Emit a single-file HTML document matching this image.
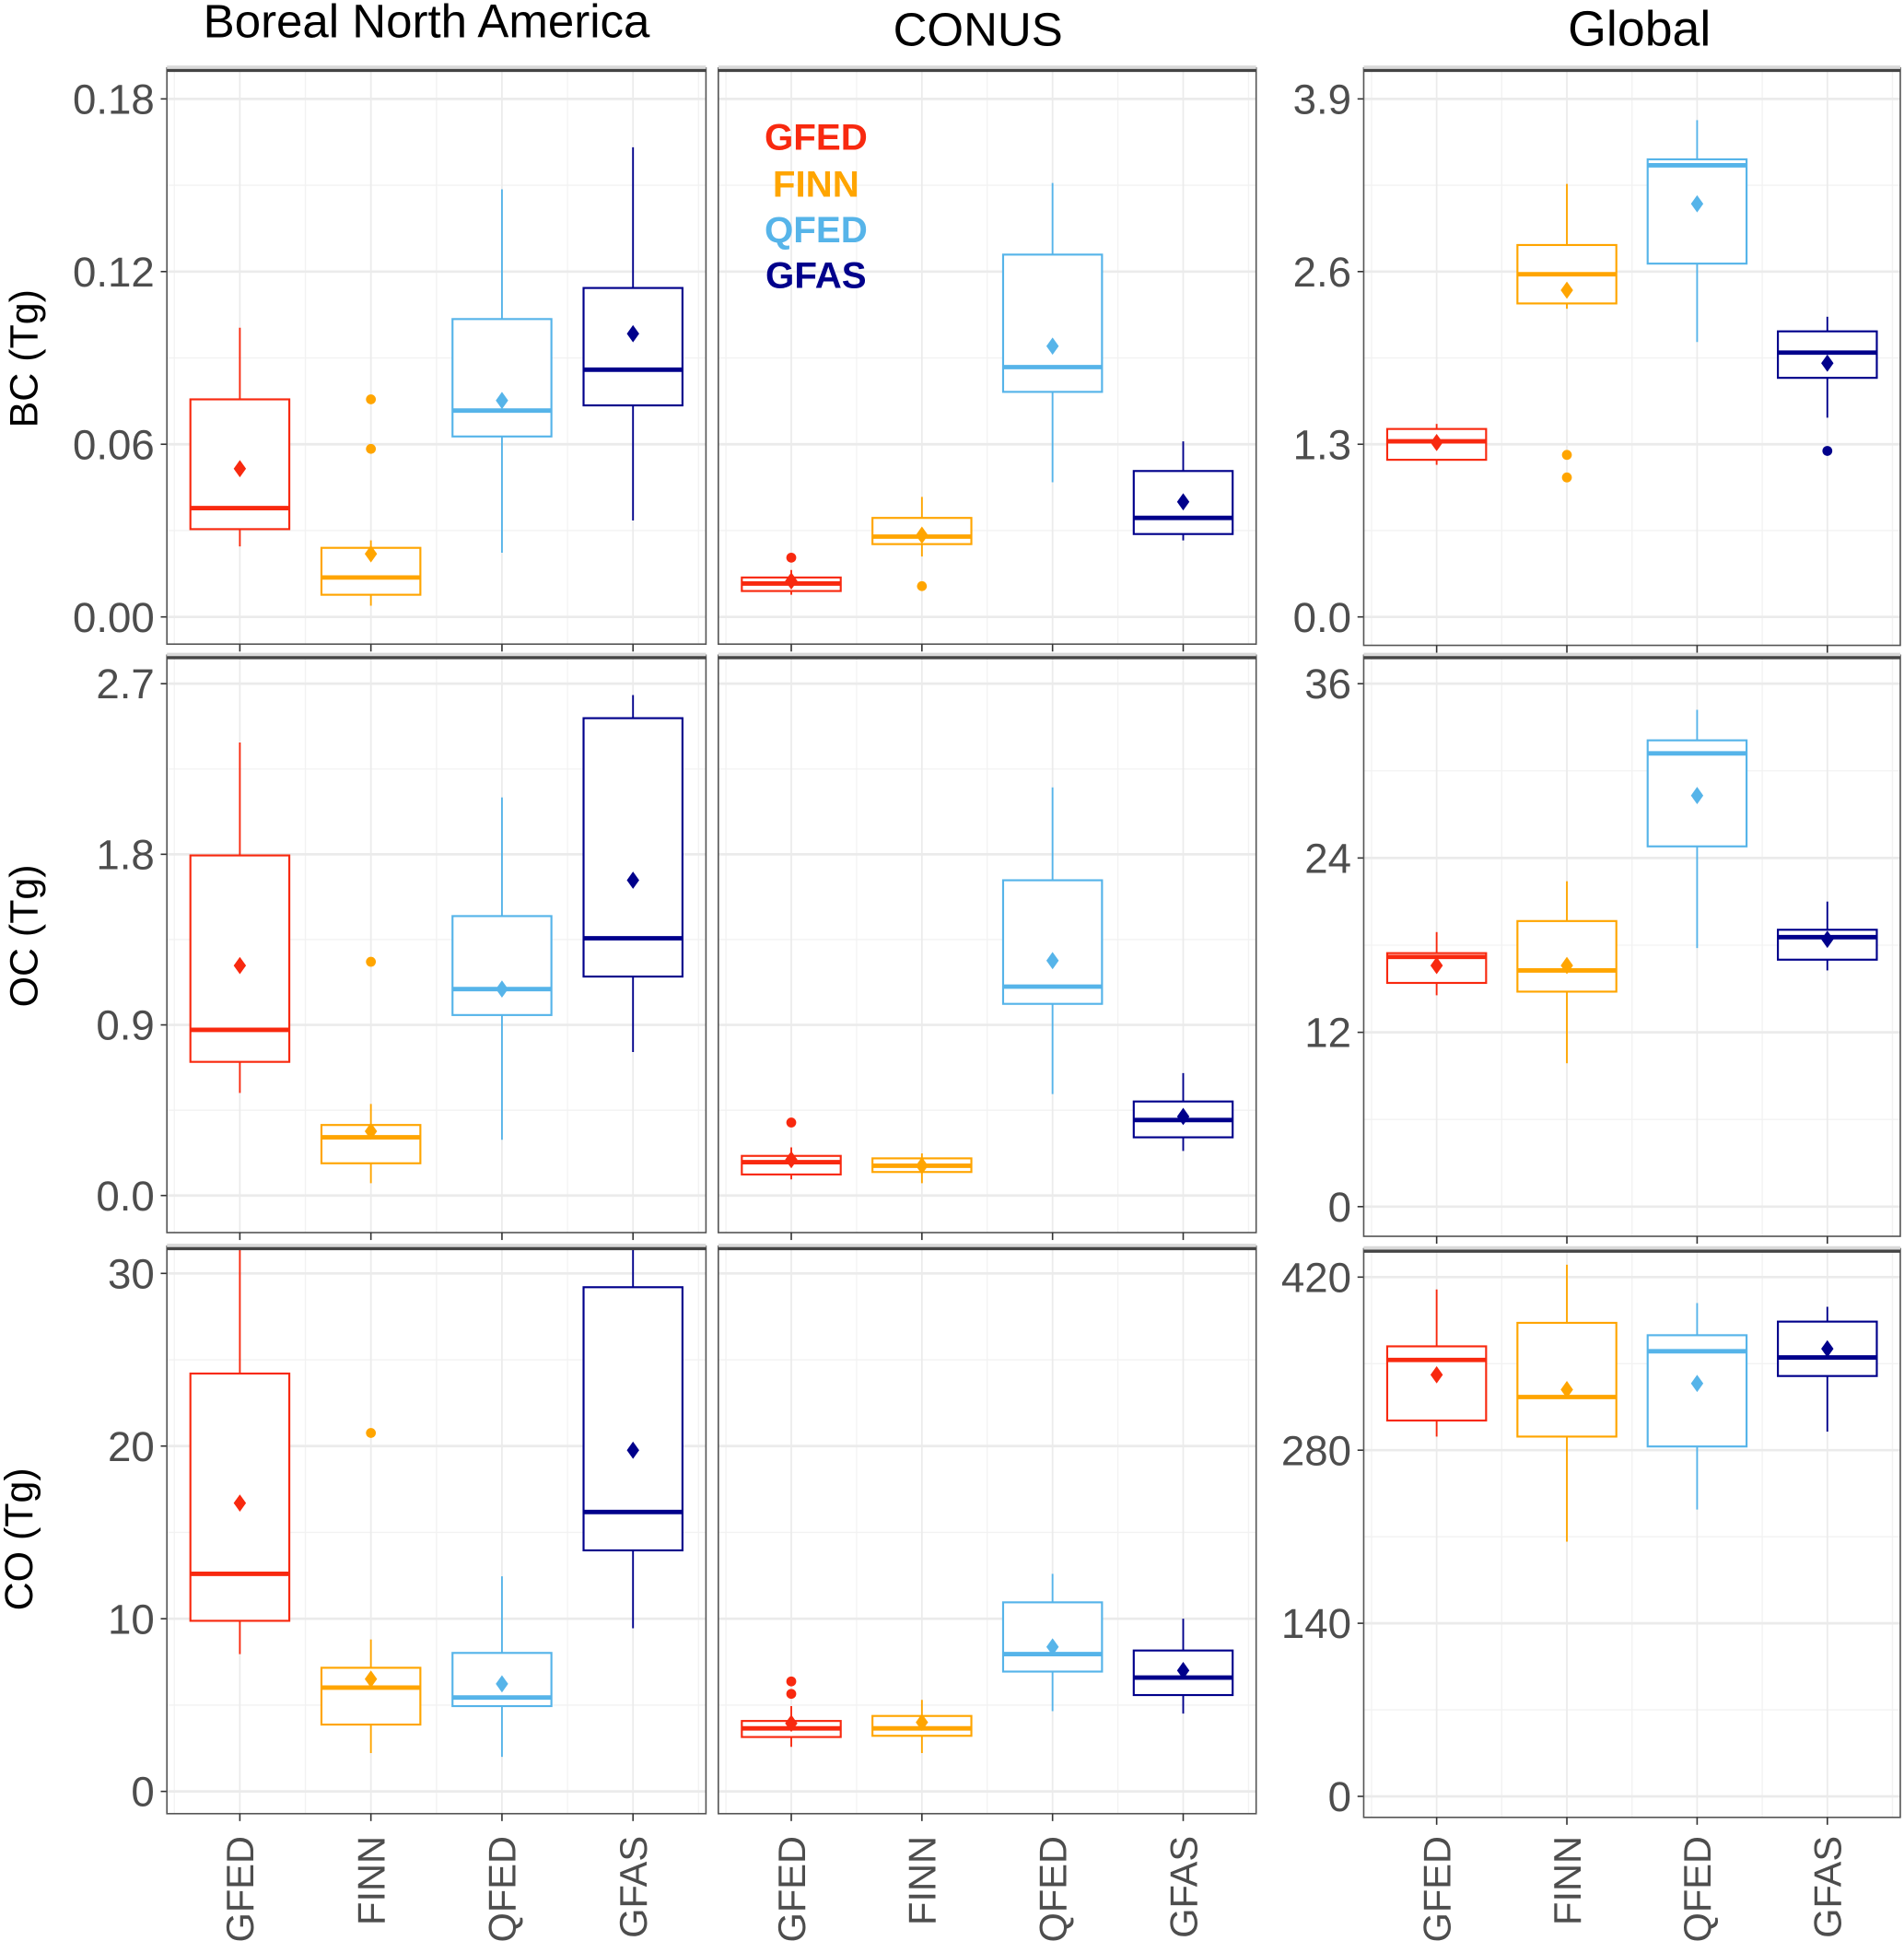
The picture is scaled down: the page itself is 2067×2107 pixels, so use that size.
<!DOCTYPE html>
<html><head><meta charset="utf-8"><style>
html,body{margin:0;padding:0;background:#fff;}
svg{display:block;font-family:"Liberation Sans",Arial,sans-serif;}
</style></head><body>
<svg id="chart" width="2067" height="2107" viewBox="0 0 1540 1570" preserveAspectRatio="none" xmlns="http://www.w3.org/2000/svg">
<text x="345" y="30" font-size="38" text-anchor="middle">Boreal North America</text>
<text x="791" y="37" font-size="38" text-anchor="middle">CONUS</text>
<text x="1326" y="37" font-size="40" text-anchor="middle">Global</text>
<g id="panels"></g>
<text transform="translate(30,290) rotate(-90)" font-size="32" text-anchor="middle">BC (Tg)</text>
<text transform="translate(30,757) rotate(-90)" font-size="32" text-anchor="middle">OC (Tg)</text>
<text transform="translate(26,1245) rotate(-90)" font-size="32" text-anchor="middle">CO (Tg)</text>
<g font-weight="bold" font-size="30" text-anchor="middle">
<text x="660" y="121" fill="#f8290f">GFED</text>
<text x="660" y="159" fill="#ffa500">FINN</text>
<text x="660" y="196" fill="#56b4e9">QFED</text>
<text x="660" y="233" fill="#00008b">GFAS</text>
</g>
</svg>
<script>
const categories = ["GFED","FINN","QFED","GFAS"];
const colors = ["#f8290f","#ffa500","#56b4e9","#00008b"];

const bcTicksRegional = [0, 0.06, 0.12, 0.18];
const bcTicksGlobal = [0, 1.3, 2.6, 3.9];
const ocTicksRegional = [0, 0.9, 1.8, 2.7];
const ocTicksGlobal = [0, 12, 24, 36];
const coTicksRegional = [0, 10, 20, 30];
const coTicksGlobal = [0, 140, 280, 420];
const bcTickLabelsRegional = ["0.00","0.06","0.12","0.18"];
const bcTickLabelsGlobal = ["0.0","1.3","2.6","3.9"];
const ocTickLabelsRegional = ["0.0","0.9","1.8","2.7"];
const ocTickLabelsGlobal = ["0","12","24","36"];
const coTickLabelsRegional = ["0","10","20","30"];
const coTickLabelsGlobal = ["0","140","280","420"];

// [low whisker, q1, median, q3, high whisker]
const bcBorealBoxes = [[0.0245,0.0305,0.0378,0.0756,0.1005],[0.0039,0.0077,0.0137,0.024,0.0266],[0.0223,0.0627,0.0717,0.1035,0.1486],[0.0335,0.0735,0.0859,0.1143,0.1632]];
const bcBorealMeans = [0.0515,0.0219,0.0752,0.0984];
const bcBorealOutliers = [[],[0.0756,0.0584],[],[]];
const bcConusBoxes = [[0.0077,0.009,0.0116,0.0137,0.0163],[0.021,0.0253,0.0279,0.0344,0.0417],[0.0468,0.0782,0.0868,0.1259,0.1508],[0.0266,0.0288,0.0344,0.0507,0.061]];
const bcConusMeans = [0.0125,0.0284,0.0941,0.04];
const bcConusOutliers = [[0.0206],[0.0107],[],[]];
const bcGlobalBoxes = [[1.145,1.183,1.322,1.415,1.453],[2.32,2.36,2.58,2.8,3.26],[2.07,2.66,3.4,3.445,3.74],[1.5,1.8,1.99,2.15,2.26]];
const bcGlobalMeans = [1.313,2.46,3.11,1.91];
const bcGlobalOutliers = [[],[1.22,1.05],[],[1.25]];

const ocBorealBoxes = [[0.541,0.705,0.874,1.794,2.39],[0.065,0.17,0.307,0.372,0.483],[0.294,0.952,1.089,1.474,2.1],[0.757,1.155,1.357,2.518,2.64]];
const ocBorealMeans = [1.213,0.339,1.089,1.663];
const ocBorealOutliers = [[],[1.233],[],[]];
const ocConusBoxes = [[0.085,0.111,0.176,0.209,0.254],[0.065,0.124,0.157,0.196,0.222],[0.535,1.011,1.102,1.663,2.153],[0.235,0.307,0.398,0.496,0.646]];
const ocConusMeans = [0.189,0.157,1.239,0.417];
const ocConusOutliers = [[0.385],[],[],[]];
const ocGlobalBoxes = [[14.55,15.4,17.19,17.45,18.9],[9.87,14.8,16.26,19.66,22.4],[17.8,24.8,31.2,32.1,34.2],[16.26,17.0,18.55,19.06,21.0]];
const ocGlobalMeans = [16.6,16.6,28.3,18.4];
const ocGlobalOutliers = [[],[],[],[]];

const coBorealBoxes = [[7.95,9.88,12.6,24.2,32],[2.22,3.87,6.01,7.16,8.8],[2.0,4.94,5.44,8.02,12.46],[9.45,13.96,16.18,29.2,32]];
const coBorealMeans = [16.7,6.51,6.23,19.76];
const coBorealOutliers = [[],[20.76],[],[]];
const coConusBoxes = [[2.58,3.15,3.65,4.08,4.94],[2.22,3.22,3.65,4.37,5.3],[4.65,6.94,7.95,10.95,12.6],[4.51,5.58,6.59,8.16,10.0]];
const coConusMeans = [3.94,4.0,8.37,7.0];
const coConusOutliers = [[6.37,5.65],[],[],[]];
const coGlobalBoxes = [[291,304,353,364,410],[206,291,323,383,430],[232,283,360,373,399],[295,340,355,384,396]];
const coGlobalMeans = [341,329,334,362];
const coGlobalOutliers = [[],[],[],[]];

const NS = "http://www.w3.org/2000/svg";
const root = document.getElementById("panels");
function mk(tag, attrs, parent){ const e=document.createElementNS(NS,tag); for(const k in attrs) e.setAttribute(k,attrs[k]); (parent||root).appendChild(e); return e; }

// layout: columns & rows (pixel geometry)
const cols = [{x0:135,x1:571},{x0:581,x1:1016},{x0:1103,x1:1537}];
const rows = [
  {y0:55,y1:521,zeroY:499,topY:80},
  {y0:530,y1:997,zeroY:967,topY:553},
  {y0:1008,y1:1467,zeroY:1449,topY:1030}];
const globalRows = [
  {y0:55,y1:522,zeroY:499,topY:80},
  {y0:530,y1:1000,zeroY:976,topY:553},
  {y0:1010,y1:1470,zeroY:1453,topY:1033}];

const panels = [
  {r:0,c:0,name:"bc-boreal",ticks:bcTicksRegional,labels:bcTickLabelsRegional,boxes:bcBorealBoxes,means:bcBorealMeans,outs:bcBorealOutliers,showY:true},
  {r:0,c:1,name:"bc-conus",ticks:bcTicksRegional,labels:bcTickLabelsRegional,boxes:bcConusBoxes,means:bcConusMeans,outs:bcConusOutliers,showY:false},
  {r:0,c:2,name:"bc-global",ticks:bcTicksGlobal,labels:bcTickLabelsGlobal,boxes:bcGlobalBoxes,means:bcGlobalMeans,outs:bcGlobalOutliers,showY:true},
  {r:1,c:0,name:"oc-boreal",ticks:ocTicksRegional,labels:ocTickLabelsRegional,boxes:ocBorealBoxes,means:ocBorealMeans,outs:ocBorealOutliers,showY:true},
  {r:1,c:1,name:"oc-conus",ticks:ocTicksRegional,labels:ocTickLabelsRegional,boxes:ocConusBoxes,means:ocConusMeans,outs:ocConusOutliers,showY:false},
  {r:1,c:2,name:"oc-global",ticks:ocTicksGlobal,labels:ocTickLabelsGlobal,boxes:ocGlobalBoxes,means:ocGlobalMeans,outs:ocGlobalOutliers,showY:true},
  {r:2,c:0,name:"co-boreal",ticks:coTicksRegional,labels:coTickLabelsRegional,boxes:coBorealBoxes,means:coBorealMeans,outs:coBorealOutliers,showY:true},
  {r:2,c:1,name:"co-conus",ticks:coTicksRegional,labels:coTickLabelsRegional,boxes:coConusBoxes,means:coConusMeans,outs:coConusOutliers,showY:false},
  {r:2,c:2,name:"co-global",ticks:coTicksGlobal,labels:coTickLabelsGlobal,boxes:coGlobalBoxes,means:coGlobalMeans,outs:coGlobalOutliers,showY:true}];

panels.forEach((p,pi)=>{
  const col = cols[p.c];
  const row = p.c===2 ? globalRows[p.r] : rows[p.r];
  const tmax = p.ticks[p.ticks.length-1];
  const y = v => row.zeroY - (v/tmax)*(row.zeroY-row.topY);
  const step = (col.x1-col.x0-118)/3;
  const x = i => col.x0 + 59 + i*step;
  const g = mk("g",{});
  
  
  const cid = "clip"+pi;
  const cp = mk("clipPath",{id:cid},g);
  mk("rect",{x:col.x0,y:row.y0+3,width:col.x1-col.x0,height:row.y1-row.y0-3},cp);
  // grid
  const tstep = p.ticks[1]-p.ticks[0];
  for(let k=0;k<p.ticks.length;k++){
    const mv = p.ticks[k]+tstep/2;
    if(k<p.ticks.length-1) mk("line",{x1:col.x0,x2:col.x1,y1:y(mv),y2:y(mv),stroke:"#f2f2f2","stroke-width":1},g);
  }
  for(let i=0;i<4;i++){
    mk("line",{x1:x(i)+step/2,x2:x(i)+step/2,y1:row.y0,y2:row.y1,stroke:"#f2f2f2","stroke-width":1},g);
    if(i===0) mk("line",{x1:x(i)-step/2,x2:x(i)-step/2,y1:row.y0,y2:row.y1,stroke:"#f2f2f2","stroke-width":1},g);
    mk("line",{x1:x(i),x2:x(i),y1:row.y0,y2:row.y1,stroke:"#ebebeb","stroke-width":1.3},g);
  }
  p.ticks.forEach((t,k)=>{
    mk("line",{x1:col.x0,x2:col.x1,y1:y(t),y2:y(t),stroke:"#ebebeb","stroke-width":2},g);
    if(p.showY){
      mk("line",{x1:col.x0-5,x2:col.x0,y1:y(t),y2:y(t),stroke:"#333","stroke-width":1.2},g);
      const lt = mk("text",{x:col.x0-10,y:y(t)+12,"font-size":34,fill:"#4d4d4d","text-anchor":"end"},g);
      
      
      lt.textContent = p.labels[k];
    }
  });
  // boxes
  const mg = mk("g",{"clip-path":"url(#"+cid+")"},g);
  p.boxes.forEach((b,i)=>{
    const c = colors[i], cx = x(i);
    const bg = mk("g",{},mg);
    
    
    mk("line",{x1:cx,x2:cx,y1:y(b[0]),y2:y(b[1]),stroke:c,"stroke-width":1.4},bg);
    mk("line",{x1:cx,x2:cx,y1:y(b[3]),y2:y(b[4]),stroke:c,"stroke-width":1.4},bg);
    mk("rect",{x:cx-40,y:y(b[3]),width:80,height:y(b[1])-y(b[3]),fill:"#fff",stroke:c,"stroke-width":1.6},bg);
    mk("line",{x1:cx-40,x2:cx+40,y1:y(b[2]),y2:y(b[2]),stroke:c,"stroke-width":3.6},bg);
    p.outs[i].forEach(o=>{ mk("circle",{cx:cx,cy:y(o),r:4,fill:c},bg); });
    const my = y(p.means[i]);
    const d = mk("path",{d:`M${cx} ${my-7}L${cx+5} ${my}L${cx} ${my+7}L${cx-5} ${my}Z`,fill:c},bg);
    
    
  });
  // frame
  mk("rect",{x:col.x0,y:row.y0,width:col.x1-col.x0,height:row.y1-row.y0,fill:"none",stroke:"#555","stroke-width":1.2},g);
  mk("rect",{x:col.x0,y:row.y0-2,width:col.x1-col.x0,height:3,fill:"#d9d9d9"},g);
  mk("line",{x1:col.x0,x2:col.x1,y1:row.y0+2,y2:row.y0+2,stroke:"#444","stroke-width":2.5},g);
  for(let i=0;i<4;i++){
    mk("line",{x1:x(i),x2:x(i),y1:row.y1,y2:row.y1+6,stroke:"#333","stroke-width":1.2},g);
    if(p.r===2){
      const xt = mk("text",{transform:`translate(${x(i)+11},1485) rotate(-90)`,"font-size":31,fill:"#4d4d4d","text-anchor":"end"},g);
      
      
      xt.textContent = categories[i];
    }
  }
});
</script>
</body></html>
